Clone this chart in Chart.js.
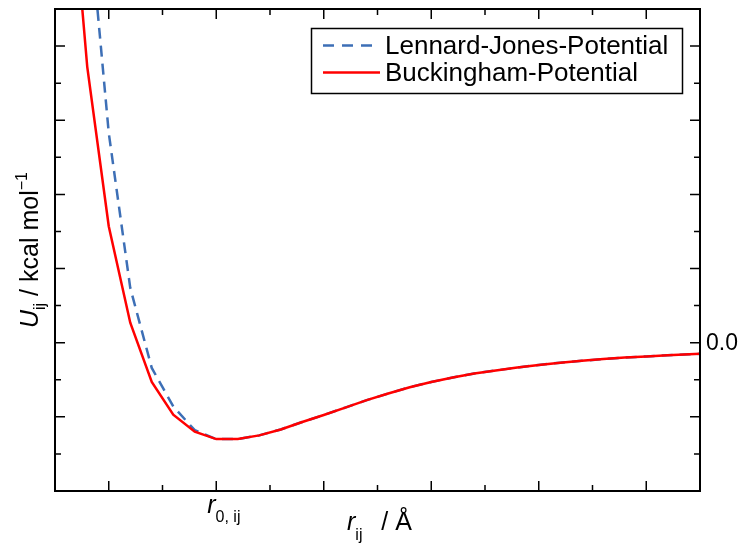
<!DOCTYPE html>
<html>
<head>
<meta charset="utf-8">
<script src="https://cdn.jsdelivr.net/npm/chart.js@4"></script>
<style>
html, body { margin: 0; padding: 0; background: #fff; }
#wrap { width: 742px; height: 543px; }
</style>
</head>
<body>
<div id="wrap"><canvas id="potChart" width="742" height="543"></canvas></div>
<script>
// distance grid (units of the tick spacing, r0 sits at 2)
const rValues = [0.6, 0.8, 1.0, 1.2, 1.4, 1.6, 1.8, 2.0, 2.2, 2.4, 2.6, 2.8, 3.0, 3.2, 3.4, 3.6,
                 3.8, 4.0, 4.2, 4.4, 4.6, 4.8, 5.0, 5.2, 5.4, 5.6, 5.8, 6.0, 6.2, 6.4, 6.6];

// y = 0 at the "0.0" tick
const ljValues = [12.0, 6.0, 2.83, 0.74, -0.34, -0.86, -1.18, -1.30, -1.30, -1.25, -1.17, -1.07, -0.975, -0.875, -0.775, -0.685,
                  -0.60, -0.53, -0.47, -0.415, -0.375, -0.335, -0.30, -0.27, -0.245, -0.22, -0.20, -0.185, -0.17, -0.155, -0.145];
const buckValues = [7.1, 3.72, 1.57, 0.27, -0.53, -0.97, -1.20, -1.30, -1.30, -1.25, -1.17, -1.07, -0.975, -0.875, -0.775, -0.685,
                    -0.60, -0.53, -0.47, -0.415, -0.375, -0.335, -0.30, -0.27, -0.245, -0.22, -0.20, -0.185, -0.17, -0.155, -0.145];

const seriesNames = ["Lennard-Jones-Potential", "Buckingham-Potential"];
const xMajorTicks = [1, 2, 3, 4, 5, 6];
const xMinorTicks = [1.5, 2.5, 3.5, 4.5, 5.5];
const yMajorTicks = [-1, 0, 1, 2, 3, 4];
const yMinorTicks = [-1.5, -0.5, 0.5, 1.5, 2.5, 3.5];
const yTickLabels = [{ value: 0, text: "0.0" }];
const r0Position = 2;

const LJ_BLUE = "#3d6fb6";
const BUCK_RED = "#ff0000";
const FONT = '"Liberation Sans", Arial, sans-serif';

function font(size, italic) {
    return (italic ? "italic " : "") + size + "px " + FONT;
}

// draws pieces of text one after another (for sub/superscripts)
function drawRich(ctx, parts, x, y) {
    let cx = x;
    parts.forEach(p => {
        cx += p.gap || 0;
        ctx.font = font(p.size, p.italic);
        ctx.fillText(p.text, cx, y + (p.dy || 0));
        cx += ctx.measureText(p.text).width;
    });
}

const framePlugin = {
    id: "frame",
    afterDraw(chart) {
        const ctx = chart.ctx;
        const a = chart.chartArea;
        const xs = chart.scales.x;
        const ys = chart.scales.y;

        ctx.save();
        ctx.strokeStyle = "#000";
        ctx.fillStyle = "#000";

        // inward ticks on all four sides
        ctx.lineWidth = 1.5;
        const tick = (vals, len) => {
            vals.forEach(v => {
                const px = xs.getPixelForValue(v);
                ctx.beginPath();
                ctx.moveTo(px, a.bottom); ctx.lineTo(px, a.bottom - len);
                ctx.moveTo(px, a.top); ctx.lineTo(px, a.top + len);
                ctx.stroke();
            });
        };
        const ytick = (vals, len) => {
            vals.forEach(v => {
                const py = ys.getPixelForValue(v);
                ctx.beginPath();
                ctx.moveTo(a.left, py); ctx.lineTo(a.left + len, py);
                ctx.moveTo(a.right, py); ctx.lineTo(a.right - len, py);
                ctx.stroke();
            });
        };
        tick(xMajorTicks, 10);
        tick(xMinorTicks, 6);
        ytick(yMajorTicks, 10);
        ytick(yMinorTicks, 6);

        // box
        ctx.lineWidth = 2;
        ctx.strokeRect(a.left, a.top, a.right - a.left, a.bottom - a.top);

        // right side value label
        ctx.textBaseline = "middle";
        ctx.textAlign = "left";
        ctx.font = font(23, false);
        yTickLabels.forEach(t => {
            ctx.fillText(t.text, a.right + 6, ys.getPixelForValue(t.value) + 1);
        });

        // x labels
        ctx.textBaseline = "alphabetic";
        const r0x = xs.getPixelForValue(r0Position);
        drawRich(ctx, [
            { text: "r", size: 25, italic: true },
            { text: "0, ij", size: 16, dy: 9 }
        ], r0x - 9, a.bottom + 22);

        drawRich(ctx, [
            { text: "r", size: 25, italic: true },
            { text: "ij", size: 16, dy: 10 },
            { text: "  / Å", size: 25, gap: 5 }
        ], 347, a.bottom + 39);

        // y label (rotated)
        ctx.save();
        ctx.translate(38, 328);
        ctx.rotate(-Math.PI / 2);
        drawRich(ctx, [
            { text: "U", size: 25, italic: true },
            { text: "ij", size: 16, dy: 7 },
            { text: " / kcal mol", size: 25 },
            { text: "\u22121", size: 16, dy: -11 }
        ], 0, 0);
        ctx.restore();

        // legend
        const lx = 311.5, ly = 28.5, lw = 371, lh = 65;
        ctx.fillStyle = "#fff";
        ctx.fillRect(lx, ly, lw, lh);
        ctx.lineWidth = 1.5;
        ctx.strokeStyle = "#000";
        ctx.strokeRect(lx, ly, lw, lh);

        const rows = [
            { name: seriesNames[0], color: LJ_BLUE, dash: [11, 8], y: 45.5 },
            { name: seriesNames[1], color: BUCK_RED, dash: [], y: 72.5 }
        ];
        rows.forEach(r => {
            ctx.beginPath();
            ctx.setLineDash(r.dash);
            ctx.strokeStyle = r.color;
            ctx.lineWidth = 2.5;
            ctx.moveTo(323, r.y);
            ctx.lineTo(380, r.y);
            ctx.stroke();
            ctx.setLineDash([]);
            ctx.fillStyle = "#000";
            ctx.font = font(26, false);
            ctx.textBaseline = "middle";
            ctx.fillText(r.name, 385, r.y + 1);
        });

        ctx.restore();
    }
};

const toPoints = vals => rValues.map((r, i) => ({ x: r, y: vals[i] }));

new Chart(document.getElementById("potChart").getContext("2d"), {
    type: "line",
    data: {
        datasets: [
            {
                label: seriesNames[0],
                data: toPoints(ljValues),
                borderColor: LJ_BLUE,
                borderWidth: 2.5,
                borderDash: [11, 7],
                pointRadius: 0,
                fill: false,
                tension: 0,
                clip: 0,
                order: 2
            },
            {
                label: seriesNames[1],
                data: toPoints(buckValues),
                borderColor: BUCK_RED,
                borderWidth: 2.5,
                pointRadius: 0,
                fill: false,
                tension: 0,
                clip: 0,
                order: 1
            }
        ]
    },
    options: {
        responsive: false,
        animation: false,
        devicePixelRatio: 1,
        layout: { padding: { left: 55, right: 42, top: 9, bottom: 52 } },
        plugins: {
            legend: { display: false },
            tooltip: { enabled: false }
        },
        scales: {
            x: { type: "linear", min: 0.5, max: 6.5, display: false },
            y: { type: "linear", min: -2, max: 4.5, display: false }
        }
    },
    plugins: [framePlugin]
});
</script>
</body>
</html>
